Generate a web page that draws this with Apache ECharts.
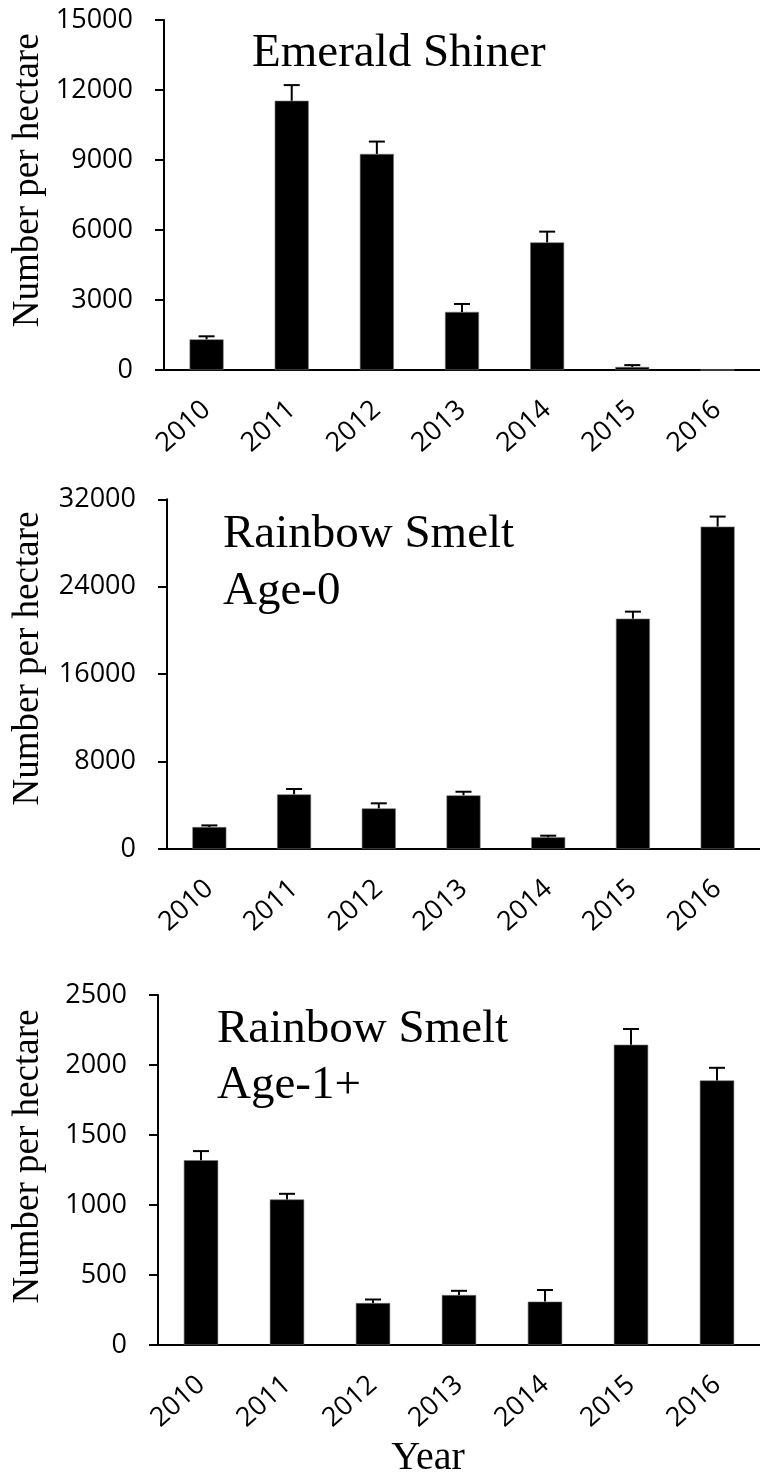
<!DOCTYPE html>
<html><head><meta charset="utf-8">
<script src="https://cdn.jsdelivr.net/npm/echarts@6/dist/echarts.min.js"></script>
<style>html,body{margin:0;padding:0;background:#fff}#c{width:760px;height:1480px}</style>
</head><body><div id="c"></div>
<script>
// ---- data ----
const years = ['2010', '2011', '2012', '2013', '2014', '2015', '2016'];

const emeraldValues = [1314, 11540, 9260, 2490, 5470, 130, 0];
const emeraldErrors = [130, 670, 530, 340, 460, 80, 0];

const smeltAge0Values = [2010, 5000, 3720, 4910, 1070, 21080, 29500];
const smeltAge0Errors = [150, 490, 460, 330, 150, 640, 920];

const smeltAge1Values = [1320, 1040, 300, 357, 310, 2145, 1890];
const smeltAge1Errors = [65, 40, 25, 30, 83, 112, 90];

const emeraldTicks = [0, 3000, 6000, 9000, 12000, 15000];
const smeltAge0Ticks = [0, 8000, 16000, 24000, 32000];
const smeltAge1Ticks = [0, 500, 1000, 1500, 2000, 2500];

const panelTitles = [['Emerald Shiner'], ['Rainbow Smelt', 'Age-0'], ['Rainbow Smelt', 'Age-1+']];
const yName = 'Number per hectare';
const xName = 'Year';

// ---- layout ----
const panels = [
  {vals: emeraldValues, errs: emeraldErrors, ticks: emeraldTicks, left: 164, top: 20, width: 599.6, height: 350, barW: 34},
  {vals: smeltAge0Values, errs: smeltAge0Errors, ticks: smeltAge0Ticks, left: 167, top: 499.3, width: 596.2, height: 349.7, barW: 34},
  {vals: smeltAge1Values, errs: smeltAge1Errors, ticks: smeltAge1Ticks, left: 158, top: 995, width: 611.8, height: 350, barW: 34.4}
];

const numFont = 'Open Sans';
const serif = 'Liberation Serif, Times New Roman, serif';

const grid = [], xAxis = [], yAxis = [], series = [];
panels.forEach((p, i) => {
  grid.push({left: p.left, top: p.top, width: p.width, height: p.height, containLabel: false});
  xAxis.push({
    type: 'category', gridIndex: i, data: years,
    axisLine: {lineStyle: {color: '#000', width: 2}},
    axisTick: {show: false},
    axisLabel: {interval: 0, rotate: 42, margin: 36, color: '#000', fontFamily: numFont, fontSize: 27}
  });
  const tks = p.ticks;
  yAxis.push({
    type: 'value', gridIndex: i, min: tks[0], max: tks[tks.length - 1], interval: tks[1] - tks[0],
    axisLine: {show: true, lineStyle: {color: '#000', width: 2}},
    axisTick: {show: true, length: 9, lineStyle: {color: '#000', width: 2}},
    splitLine: {show: false},
    axisLabel: {margin: 31, color: '#000', fontFamily: numFont, fontSize: 27, formatter: v => String(v)}
  });
  series.push({
    type: 'bar', xAxisIndex: i, yAxisIndex: i, data: p.vals, barWidth: p.barW,
    itemStyle: {color: '#000', borderColor: '#777', borderWidth: 0.6}, z: 2, silent: true
  });
  series.push({
    type: 'custom', xAxisIndex: i, yAxisIndex: i, z: 3, silent: true,
    data: p.vals.map((v, k) => [k, v, p.errs[k]]),
    encode: {x: 0, y: 1},
    renderItem: function (params, api) {
      const e = api.value(2);
      if (!e) return null;
      const base = api.coord([api.value(0), api.value(1)]);
      const top = api.coord([api.value(0), api.value(1) + e]);
      const hw = 8;
      return {
        type: 'group', children: [
          {type: 'line', shape: {x1: base[0], y1: base[1], x2: top[0], y2: top[1]}, style: {stroke: '#000', lineWidth: 2}},
          {type: 'line', shape: {x1: top[0] - hw, y1: top[1], x2: top[0] + hw, y2: top[1]}, style: {stroke: '#000', lineWidth: 2}}
        ]
      };
    }
  });
});

function txt(text, x, y, size, opts) {
  return Object.assign({
    type: 'text', x: x, y: y, silent: true,
    style: {text: text, fontFamily: serif, fontSize: size, fill: '#000',
      textAlign: 'left', textVerticalAlign: 'middle', align: 'left', verticalAlign: 'middle'}
  }, opts || {});
}
function rtxt(text, x, y, size) {
  const t = txt(text, x, y, size, {rotation: Math.PI / 2});
  t.style.textAlign = 'center'; t.style.align = 'center';
  return t;
}

const graphic = [
  txt(panelTitles[0][0], 252, 53.5, 47),
  txt(panelTitles[1][0], 223, 534.5, 47),
  txt(panelTitles[1][1], 223, 592, 47),
  txt(panelTitles[2][0], 217, 1029.5, 47),
  txt(panelTitles[2][1], 217, 1086, 47),
  rtxt(yName, 28.5, 180.3, 37),
  rtxt(yName, 28.5, 658.5, 37),
  rtxt(yName, 28.5, 1156.5, 37)
];
const yr = txt(xName, 428, 1458.8, 40);
yr.style.textAlign = 'center'; yr.style.align = 'center';
graphic.push(yr);

const chart = echarts.init(document.getElementById('c'), null, {renderer: 'canvas'});
chart.setOption({
  backgroundColor: '#fff',
  animation: false,
  grid: grid, xAxis: xAxis, yAxis: yAxis, series: series, graphic: graphic
});
</script></body></html>
